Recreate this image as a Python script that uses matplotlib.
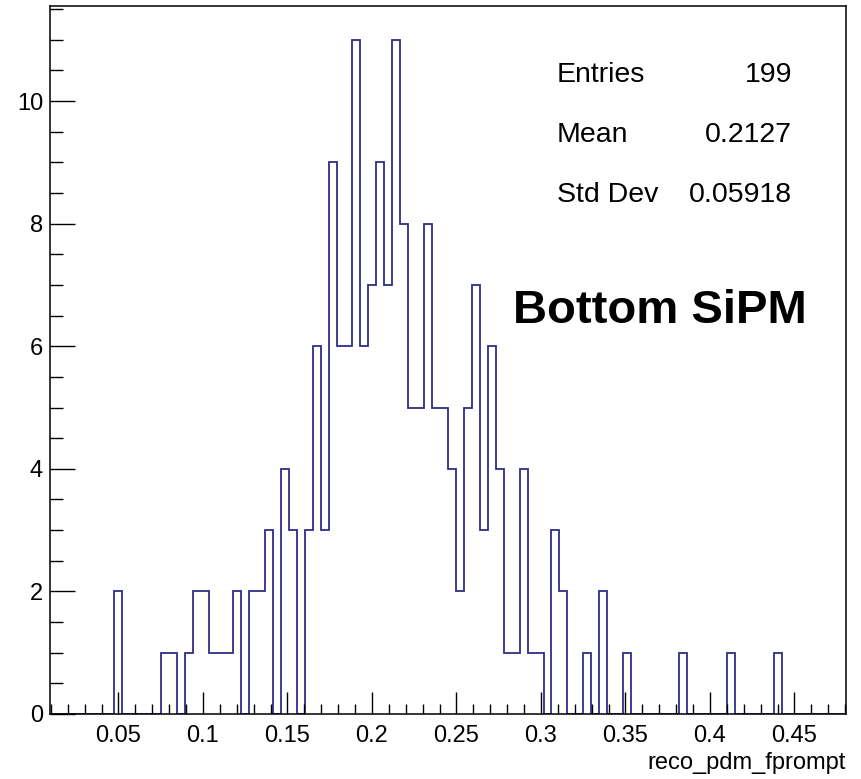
"""Step histogram of reco_pdm_fprompt for the bottom SiPM, drawn in a ROOT-like style."""

import numpy as np
import matplotlib

matplotlib.use("Agg")
import matplotlib.pyplot as plt
from matplotlib.ticker import MultipleLocator, FormatStrFormatter

# 100 equal-width bins over the axis range
x_min, x_max = 0.0095, 0.4805
n_bins = 100

counts = [
    0, 0, 0, 0, 0, 0, 0, 0, 2, 0,
    0, 0, 0, 0, 1, 1, 0, 1, 2, 2,
    1, 1, 1, 2, 0, 2, 2, 3, 0, 4,
    3, 0, 3, 6, 3, 9, 6, 6, 11, 6,
    7, 9, 7, 11, 8, 5, 5, 8, 5, 5,
    4, 2, 5, 7, 3, 6, 4, 1, 1, 4,
    1, 1, 0, 3, 2, 0, 0, 1, 0, 2,
    0, 0, 1, 0, 0, 0, 0, 0, 0, 1,
    0, 0, 0, 0, 0, 1, 0, 0, 0, 0,
    0, 1, 0, 0, 0, 0, 0, 0, 0, 0,
]

stat_names = ["Entries", "Mean", "Std Dev"]
stat_values = ["199", "0.2127", "0.05918"]

W, H = 862, 779
plt.rcParams["font.family"] = ["Liberation Sans", "DejaVu Sans"]

fig = plt.figure(figsize=(W / 100, H / 100), dpi=100)
ax = fig.add_axes([50 / W, 1 - 714 / H, (846 - 50) / W, (714 - 6) / H])

edges = np.linspace(x_min, x_max, n_bins + 1)
ax.stairs(counts, edges, baseline=0, color="#2e2e86", linewidth=1.3)

ax.set_xlim(x_min, x_max)
ax.set_ylim(0, max(counts) * 1.05)

for sp in ax.spines.values():
    sp.set_linewidth(1.1)

ax.xaxis.set_major_locator(MultipleLocator(0.05))
ax.xaxis.set_minor_locator(MultipleLocator(0.01))
ax.yaxis.set_major_locator(MultipleLocator(2))
ax.yaxis.set_minor_locator(MultipleLocator(0.5))
ax.xaxis.set_major_formatter(FormatStrFormatter("%g"))
ax.yaxis.set_major_formatter(FormatStrFormatter("%g"))

ax.tick_params(axis="x", which="major", direction="in", length=16, width=1,
               labelsize=17, pad=8)
ax.tick_params(axis="x", which="minor", direction="in", length=7.5, width=1)
ax.tick_params(axis="y", which="major", direction="in", length=18, width=1,
               labelsize=17, pad=5)
ax.tick_params(axis="y", which="minor", direction="in", length=9.5, width=1)

fig.text(846 / W, 1 - 769 / H, "reco_pdm_fprompt", ha="right", va="baseline",
         fontsize=17)

# stats block, no border
for i, (name, val) in enumerate(zip(stat_names, stat_values)):
    y = 1 - (82 + 60 * i) / H
    fig.text(557 / W, y, name, ha="left", va="baseline", fontsize=20.5)
    fig.text(792 / W, y, val, ha="right", va="baseline", fontsize=20.5)

fig.text(660 / W, 1 - 323 / H, "Bottom SiPM", ha="center", va="baseline",
         fontsize=34, fontweight="bold")

fig.savefig("out.png", dpi=100)
